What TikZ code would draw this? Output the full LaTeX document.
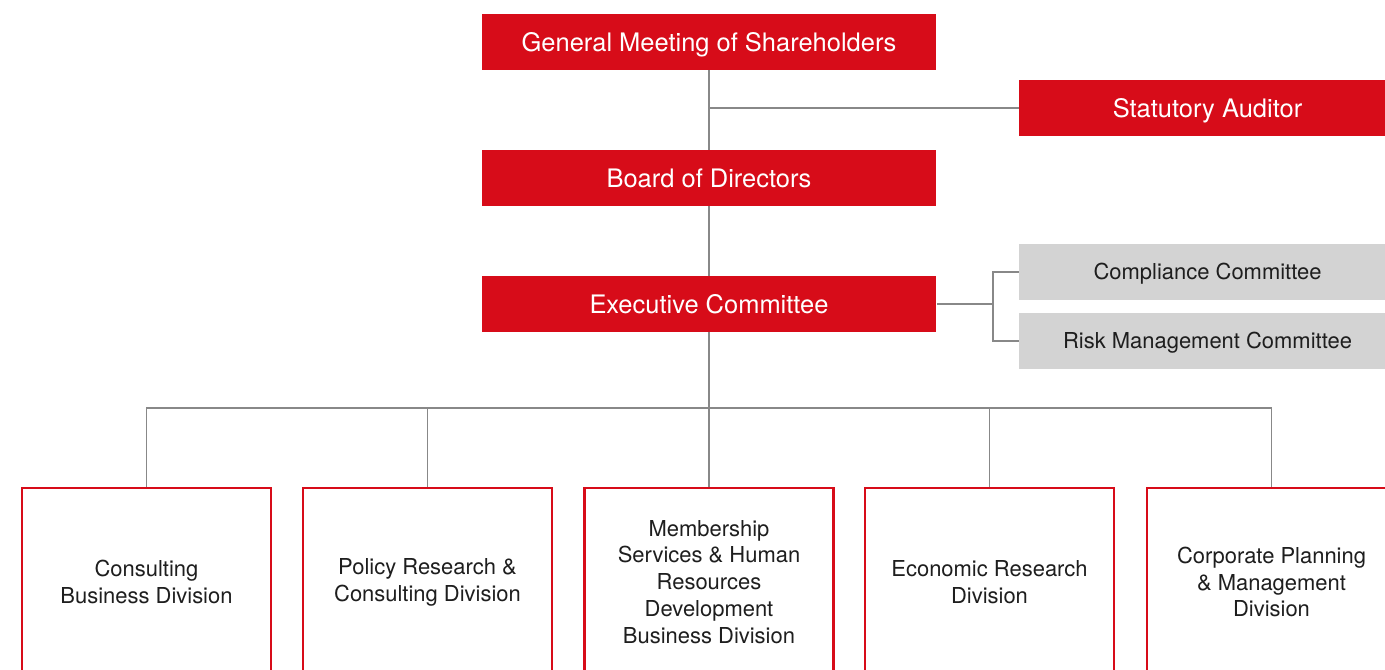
\documentclass[tikz,border=0pt]{standalone}
\usepackage{fontspec}
\setmainfont{TeX Gyre Heros}

\definecolor{orgred}{HTML}{D70C19}
\definecolor{boxgray}{HTML}{D3D3D3}
\definecolor{linegray}{HTML}{888888}
\definecolor{txtdark}{HTML}{1E1E1E}

\begin{document}
\begin{tikzpicture}[x=0.02cm, y=-0.02cm,
    redbox/.style={fill=orgred, text=white, minimum height=1.12cm, inner sep=0pt,
        text height=10.4pt, text depth=0pt, font=\fontsize{14.5}{17}\selectfont},
    graybox/.style={fill=boxgray, text=txtdark, minimum width=7.54cm, minimum height=1.12cm,
        inner sep=0pt, text height=9pt, text depth=0pt, font=\fontsize{12.5}{15}\selectfont},
    divbox/.style={draw=orgred, fill=white, line width=1.2pt, text=txtdark, align=center,
        minimum width=4.98cm, minimum height=3.76cm, inner sep=0pt,
        font=\fontsize{12.5}{15.3}\selectfont},
    link/.style={draw=linegray, line width=0.9pt}]

    % Page frame (the right column and the divisions run off the page)
    \useasboundingbox (0,0) rectangle (1385,669);
    \clip (0,0) rectangle (1385,669);

    % Governance boxes (red)
    \node[redbox, minimum width=9.1cm] (gm) at (709,42) {General Meeting of Shareholders};
    \node[redbox, minimum width=7.54cm] (sa) at (1207.5,108) {Statutory Auditor};
    \node[redbox, minimum width=9.1cm] (bod) at (709,178) {Board of Directors};
    \node[redbox, minimum width=9.1cm] (ec) at (709,304) {Executive Committee};

    % Committees (gray)
    \node[graybox] (cc) at (1207.5,272) {Compliance Committee};
    \node[graybox] (rm) at (1207.5,341) {Risk Management Committee};

    % Divisions (red outline)
    \node[divbox] (d1) at (146.5,582) {Consulting\\Business Division};
    \node[divbox] (d2) at (427.5,582) {Policy Research \&\\Consulting Division};
    \node[divbox] (d3) at (709,582) {Membership\\Services \& Human\\Resources\\Development\\Business Division};
    \node[divbox] (d4) at (989.5,582) {Economic Research\\Division};
    \node[divbox] (d5) at (1271.5,582) {Corporate Planning\\\& Management\\Division};

    % Meeting -> Board, with branch to the auditor
    \draw[link] (gm.south) -- (bod.north);
    \coordinate (sa-tap) at (gm.south |- sa.west);
    \draw[link] (sa-tap) -- (sa.west);

    % Board -> Executive Committee
    \draw[link] (bod.south) -- (ec.north);

    % Executive Committee -> committees
    \draw[link] (ec.east) -- ++(56,0) coordinate (ctee-fork);
    \draw[link] (ctee-fork) |- (cc.west);
    \draw[link] (ctee-fork) |- (rm.west);

    % Executive Committee -> divisions
    \coordinate (bus) at (709,408);
    \draw[link] (ec.south) -- (bus);
    \foreach \d in {d1,d2,d3,d4,d5}
        \draw[link] (\d.north) |- (bus);

\end{tikzpicture}
\end{document}
